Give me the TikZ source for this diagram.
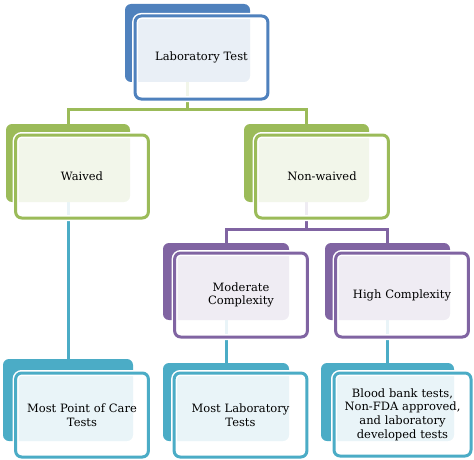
\documentclass[tikz,border=0pt]{standalone}
\usepackage{fontspec}
\setmainfont{DejaVu Serif}
\usetikzlibrary{positioning}
\usetikzlibrary{backgrounds}

\definecolor{cblue}{HTML}{4F81BD}
\definecolor{cgreen}{HTML}{9BBB59}
\definecolor{cpurple}{HTML}{8064A2}
\definecolor{cteal}{HTML}{4BACC6}

\begin{document}
\begin{tikzpicture}[x=1pt,y=-1pt,
        back/.style={rectangle,rounded corners=6pt,fill=#1,inner sep=0pt,
            minimum width=125pt,minimum height=78pt},
        front/.style={rectangle,rounded corners=6pt,draw=#1,line width=3pt,
            fill=white,fill opacity=0.88,text opacity=1,
            preaction={draw=white,line width=6pt},
            minimum width=130pt,minimum height=83pt,text width=126pt,align=center,
            font=\fontsize{11.5}{13.6}\selectfont},
        link/.style={draw=#1,line width=3pt}]
        \useasboundingbox (0,0) rectangle (474,460);
        % back boxes
        \node[back=cblue] (labB) at (187.5,43) {};
        \node[back=cgreen,minimum width=124pt] (waivB) at (68,163) {};
        \node[back=cgreen] (nonwB) at (306.5,163) {};
        \node[back=cpurple,minimum width=126pt,minimum height=77pt] (modB) at (226,281.5) {};
        \node[back=cpurple,minimum height=77pt] (highB) at (387.5,281.5) {};
        \node[back=cteal,minimum width=130pt,minimum height=82pt] (pocB) at (68,400) {};
        \node[back=cteal,minimum width=126pt] (mlabB) at (226,402) {};
        \node[back=cteal,minimum width=133pt] (bloodB) at (387.5,402) {};
        % front boxes
        \node[front=cblue,minimum width=131pt] (lab) at (201.5,57.5) {Laboratory Test};
        \node[front=cgreen] (waiv) at (82,176.5) {Waived};
        \node[front=cgreen] (nonw) at (322,176.5) {Non-waived};
        \node[front=cpurple,minimum height=84pt] (mod) at (241,295) {Moderate\\Complexity};
        \node[front=cpurple,minimum height=84pt] (high) at (402,295) {High Complexity};
        \node[front=cteal,minimum height=84pt] (poc) at (82,415) {Most Point of Care\\Tests};
        \node[front=cteal,minimum width=131pt,minimum height=84pt] (mlab) at (240.5,415) {Most Laboratory\\Tests};
        \node[front=cteal,minimum width=137pt] (blood) at (402.5,414.5) {Blood bank tests,\\Non-FDA approved,\\and laboratory\\developed tests};
        % connectors
        \coordinate (s1) at (187.5,109);
        \coordinate (s2) at (306.5,229);
        \begin{scope}[on background layer]
            \draw[link=cgreen] (labB.center) -- (s1) -| (waivB.north);
            \draw[link=cgreen] (s1) -| (nonwB.north);
            \draw[link=cteal] (waivB.center) -- (pocB.north);
            \draw[link=cpurple] (nonwB.center) -- (s2) -| (modB.north);
            \draw[link=cpurple] (s2) -| (highB.north);
            \draw[link=cteal] (modB.center) -- (mlabB.north);
            \draw[link=cteal] (highB.center) -- (bloodB.north);
        \end{scope}
    \end{tikzpicture}
\end{document}
